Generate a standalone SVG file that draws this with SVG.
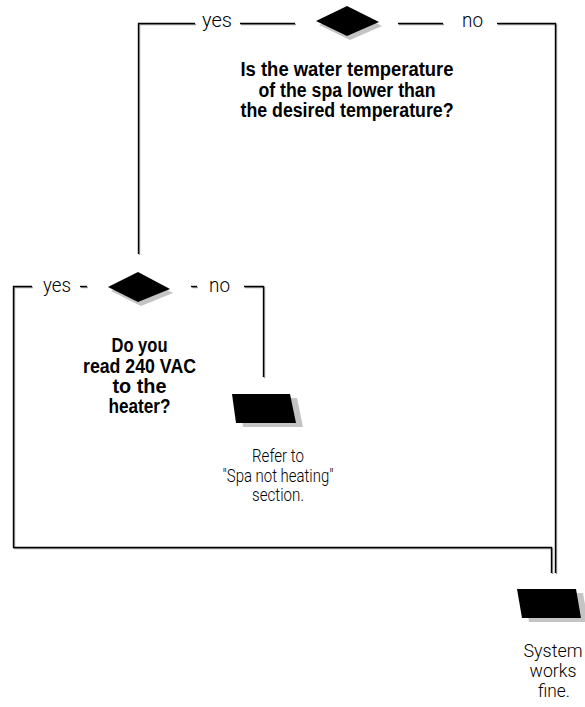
<svg xmlns="http://www.w3.org/2000/svg" width="585" height="707" viewBox="0 0 585 707">
<style>
.ln{fill:none;stroke:#000;stroke-width:1.4}
.sh{fill:none;stroke:#9a9a9a;stroke-width:1.4}
.shape{fill:#000}
.shadow{fill:#c4c4c4}
.q{font-family:"Liberation Sans Narrow","Liberation Sans",Arial,sans-serif;font-weight:bold;font-size:20px;fill:#000;text-anchor:middle}
.t{font-family:"Roboto","Liberation Sans Narrow","Liberation Sans",sans-serif;font-weight:300;font-size:18px;fill:#000;text-anchor:middle}
.lbl{font-family:"Roboto","Liberation Sans Narrow","Liberation Sans",sans-serif;font-weight:300;font-size:20px;fill:#000}
</style>
<rect width="585" height="707" fill="#fff"/>
<g id="connectors">
<g transform="translate(1,1)">
<path class="sh" d="M138.5,254 V23.5 H195"/>
<path class="sh" d="M240,23.5 H295"/>
<path class="sh" d="M398,23.5 H443"/>
<path class="sh" d="M497,23.5 H555.5 V573"/>
<path class="sh" d="M32,286.5 H13.5 V547.5 H551.5 V573"/>
<path class="sh" d="M80,286.5 H87"/>
<path class="sh" d="M191,286.5 H197"/>
<path class="sh" d="M244,286.5 H263.5 V377"/>
</g>
<path class="ln" d="M138.5,254 V23.5 H195"/>
<path class="ln" d="M240,23.5 H295"/>
<path class="ln" d="M398,23.5 H443"/>
<path class="ln" d="M497,23.5 H555.5 V573"/>
<path class="ln" d="M32,286.5 H13.5 V547.5 H551.5 V573"/>
<path class="ln" d="M80,286.5 H87"/>
<path class="ln" d="M191,286.5 H197"/>
<path class="ln" d="M244,286.5 H263.5 V377"/>
<text class="lbl" x="202" y="27" textLength="30" lengthAdjust="spacingAndGlyphs">yes</text>
<text class="lbl" x="462" y="27" textLength="21" lengthAdjust="spacingAndGlyphs">no</text>
<text class="lbl" x="43" y="292" textLength="28" lengthAdjust="spacingAndGlyphs">yes</text>
<text class="lbl" x="209" y="292" textLength="21" lengthAdjust="spacingAndGlyphs">no</text>
</g>
<g id="decision-temperature">
<polygon class="shadow" points="319,25 350,10 382,26 350,40"/>
<polygon class="shape" points="316,21 347,6 379,22 347,36"/>
<text class="q" x="347" y="76" textLength="213" lengthAdjust="spacingAndGlyphs">Is the water temperature</text>
<text class="q" x="347" y="96.5" textLength="177" lengthAdjust="spacingAndGlyphs">of the spa lower than</text>
<text class="q" x="347" y="117" textLength="213" lengthAdjust="spacingAndGlyphs">the desired temperature?</text>
</g>
<g id="decision-voltage">
<polygon class="shadow" points="111,291 141,276 173,293 141,306"/>
<polygon class="shape" points="108,287 138,272 170,289 138,302"/>
<text class="q" x="139.5" y="352" textLength="56" lengthAdjust="spacingAndGlyphs">Do you</text>
<text class="q" x="139.5" y="372.5" textLength="113" lengthAdjust="spacingAndGlyphs">read 240 VAC</text>
<text class="q" x="139.5" y="393" textLength="54" lengthAdjust="spacingAndGlyphs">to the</text>
<text class="q" x="139.5" y="413" textLength="62" lengthAdjust="spacingAndGlyphs">heater?</text>
</g>
<g id="result-not-heating">
<polygon class="shadow" points="239,398 297,398 303,427 243,427"/>
<polygon class="shape" points="232,394 290,394 296,423 236,423"/>
<text class="t" x="278" y="462" textLength="52" lengthAdjust="spacingAndGlyphs">Refer to</text>
<text class="t" x="278" y="481.5" textLength="111" lengthAdjust="spacingAndGlyphs">"Spa not heating"</text>
<text class="t" x="278" y="501" textLength="52" lengthAdjust="spacingAndGlyphs">section.</text>
</g>
<g id="result-works-fine">
<polygon class="shadow" points="524,593 583,593 588,622 529,622"/>
<polygon class="shape" points="517,589 576,589 581,618 522,618"/>
<text class="t" x="553" y="657" textLength="59" lengthAdjust="spacingAndGlyphs">System</text>
<text class="t" x="553" y="677" textLength="47" lengthAdjust="spacingAndGlyphs">works</text>
<text class="t" x="554" y="697" textLength="32" lengthAdjust="spacingAndGlyphs">fine.</text>
</g>
</svg>
